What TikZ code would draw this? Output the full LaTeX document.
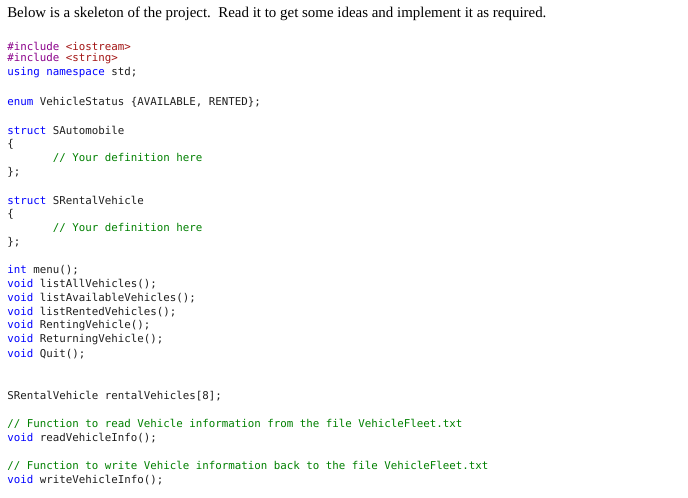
\documentclass[tikz,border=0pt]{standalone}
\usepackage{fontspec}
\setmainfont{Liberation Serif}
\setmonofont{DejaVu Sans Mono}
\usepackage{xcolor}
\definecolor{kw}{HTML}{0000FF}
\definecolor{pre}{HTML}{8B008B}
\definecolor{str}{HTML}{A31515}
\definecolor{cm}{HTML}{008000}
\definecolor{tx}{HTML}{1E1E1E}
\newcommand{\myK}[1]{\textcolor{kw}{#1}}
\newcommand{\myP}[1]{\textcolor{pre}{#1}}
\newcommand{\myS}[1]{\textcolor{str}{#1}}
\newcommand{\myC}[1]{\textcolor{cm}{#1}}
\begin{document}
\begin{tikzpicture}[x=0.75pt,y=-0.75pt,
  code/.style={anchor=west,inner sep=0pt,font=\ttfamily\fontsize{8.1pt}{9pt}\selectfont,text=tx},
  head/.style={anchor=west,inner sep=0pt,font=\fontsize{11.2pt}{14pt}\selectfont}]
\useasboundingbox[fill=white] (0,0) rectangle (688,497);
\node[head] (t) at (7,14) {Below is a skeleton of the project.\ \ Read it to get some ideas and implement it as required.};
\node[code] (l1) at (7,46) {\myP{\#include} \myS{<iostream>}};
\node[code] (l2) at (7,59) {\myP{\#include} \myS{<string>}};
\node[code] (l3) at (7,73) {\myK{using} \myK{namespace} std;};
\node[code] (l4) at (7,102) {\myK{enum} VehicleStatus \{AVAILABLE, RENTED\};};
\node[code] (l5) at (7,130) {\myK{struct} SAutomobile};
\node[code] (l6) at (7,144) {\{};
\node[code] (l7) at (7,158) {\myC{\ \ \ \ \ \ \ // Your definition here}};
\node[code] (l8) at (7,172) {\};};
\node[code] (l9) at (7,200) {\myK{struct} SRentalVehicle};
\node[code] (l10) at (7,214) {\{};
\node[code] (l11) at (7,228) {\myC{\ \ \ \ \ \ \ // Your definition here}};
\node[code] (l12) at (7,242) {\};};
\node[code] (l13) at (7,270) {\myK{int} menu();};
\node[code] (l14) at (7,284) {\myK{void} listAllVehicles();};
\node[code] (l15) at (7,298) {\myK{void} listAvailableVehicles();};
\node[code] (l16) at (7,312) {\myK{void} listRentedVehicles();};
\node[code] (l17) at (7,326) {\myK{void} RentingVehicle();};
\node[code] (l18) at (7,340) {\myK{void} ReturningVehicle();};
\node[code] (l19) at (7,354) {\myK{void} Quit();};
\node[code] (l20) at (7,396) {SRentalVehicle rentalVehicles[8];};
\node[code] (l21) at (7,424) {\myC{// Function to read Vehicle information from the file VehicleFleet.txt}};
\node[code] (l22) at (7,438) {\myK{void} readVehicleInfo();};
\node[code] (l23) at (7,466) {\myC{// Function to write Vehicle information back to the file VehicleFleet.txt}};
\node[code] (l24) at (7,480) {\myK{void} writeVehicleInfo();};
\end{tikzpicture}
\end{document}
